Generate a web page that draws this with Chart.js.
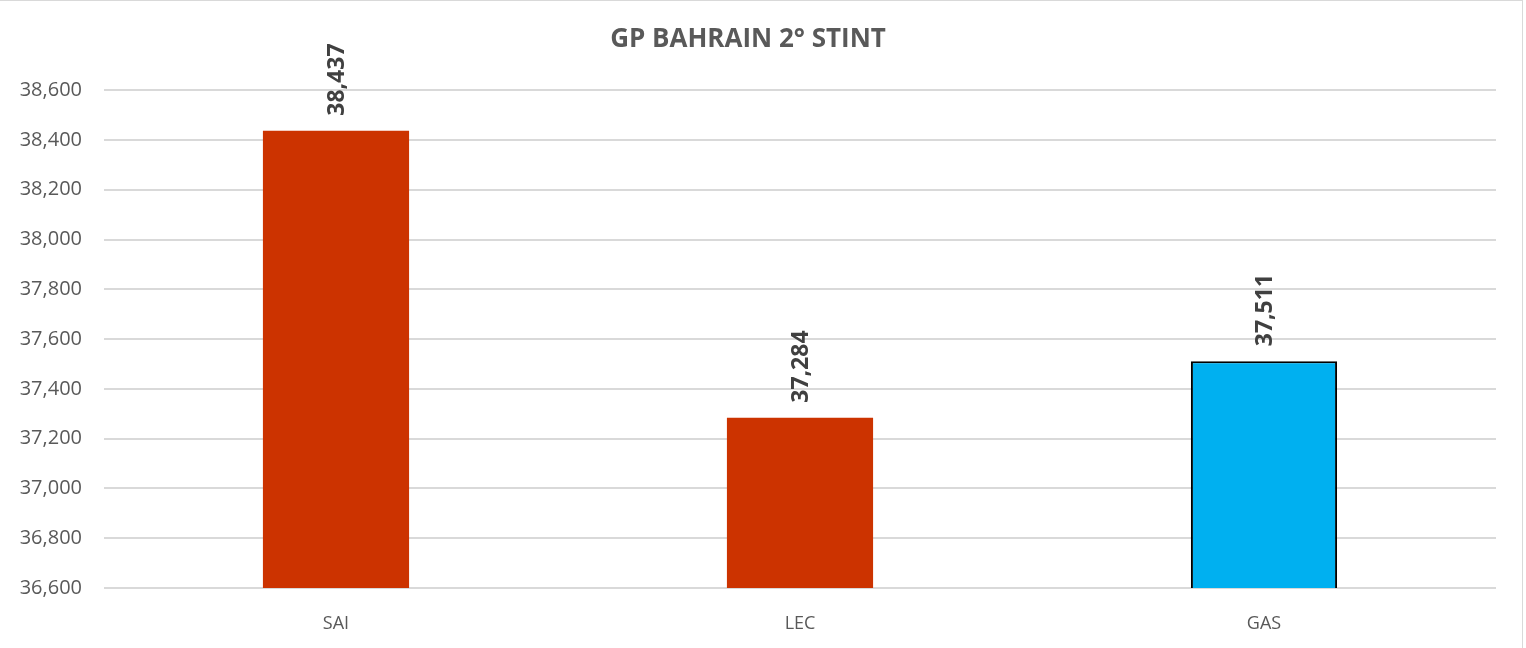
<!DOCTYPE html>
<html>
<head>
<meta charset="utf-8">
<script src="https://cdn.jsdelivr.net/npm/chart.js@4/dist/chart.umd.min.js"></script>
<style>
  html, body { margin: 0; padding: 0; background: #fff; }
  #wrap { position: relative; width: 1526px; height: 648px; overflow: hidden; }
  #frame { position: absolute; left: -2px; top: 0; width: 1525px; height: 660px;
           border-top: 1px solid #d9d9d9; border-right: 1px solid #d9d9d9; box-sizing: border-box; }
  canvas { position: absolute; left: 0; top: 0; }
</style>
</head>
<body>
<div id="wrap">
  <div id="frame"></div>
  <canvas id="stint" width="1526" height="648"></canvas>
</div>
<script>
// lap times, 2nd stint (seconds)
var drivers = ['SAI', 'LEC', 'GAS'];
var lapTimes = [38.437, 37.284, 37.511];
var barColors = ['#CC3300', '#CC3300', '#00B0F0'];
var barBorders = [0, 0, 2];
var yMin = 36.6, yMax = 38.6, yStep = 0.2;

var FONT = '"Open Sans", "Noto Sans", sans-serif';

function fmt(v) {
    return v.toFixed(3).replace('.', ',');
}

// rotated value labels above each bar
var valueLabels = {
    id: 'valueLabels',
    afterDatasetsDraw: function(chart) {
        var ctx = chart.ctx;
        var meta = chart.getDatasetMeta(0);
        ctx.save();
        ctx.font = 'bold 23px ' + FONT;
        ctx.fillStyle = '#404040';
        ctx.textAlign = 'left';
        ctx.textBaseline = 'middle';
        meta.data.forEach(function(bar, i) {
            ctx.save();
            ctx.translate(bar.x + 1, bar.y - 15);
            ctx.rotate(-Math.PI / 2);
            ctx.fillText(fmt(lapTimes[i]), 0, 0);
            ctx.restore();
        });
        ctx.restore();
    }
};

new Chart(document.getElementById('stint').getContext('2d'), {
    type: 'bar',
    data: {
        labels: drivers,
        datasets: [{
            data: lapTimes,
            backgroundColor: barColors,
            borderColor: '#000000',
            borderWidth: barBorders,
            borderSkipped: 'bottom',
            categoryPercentage: 1,
            barPercentage: 0.315
        }]
    },
    options: {
        responsive: false,
        animation: false,
        devicePixelRatio: 1,
        layout: { padding: { left: 0, right: 30, top: 0, bottom: 0 } },
        plugins: {
            legend: { display: false },
            tooltip: { enabled: false },
            title: {
                display: true,
                text: 'GP BAHRAIN 2° STINT',
                color: '#595959',
                font: { family: FONT, size: 26, weight: 'bold' },
                padding: { top: 24, bottom: 35 }
            }
        },
        scales: {
            x: {
                grid: { display: false },
                border: { display: false },
                ticks: {
                    color: '#595959',
                    font: { family: FONT, size: 18 },
                    padding: 17
                },
                afterFit: function(scale) { scale.height = 60; }
            },
            y: {
                min: yMin,
                max: yMax,
                border: { display: false },
                grid: { color: '#d9d9d9', lineWidth: 2, drawTicks: false },
                ticks: {
                    stepSize: yStep,
                    color: '#595959',
                    font: { family: FONT, size: 20 },
                    padding: 22,
                    callback: function(v) { return fmt(v); }
                },
                afterFit: function(scale) { scale.width = 104; }
            }
        }
    },
    plugins: [valueLabels]
});
</script>
</body>
</html>
